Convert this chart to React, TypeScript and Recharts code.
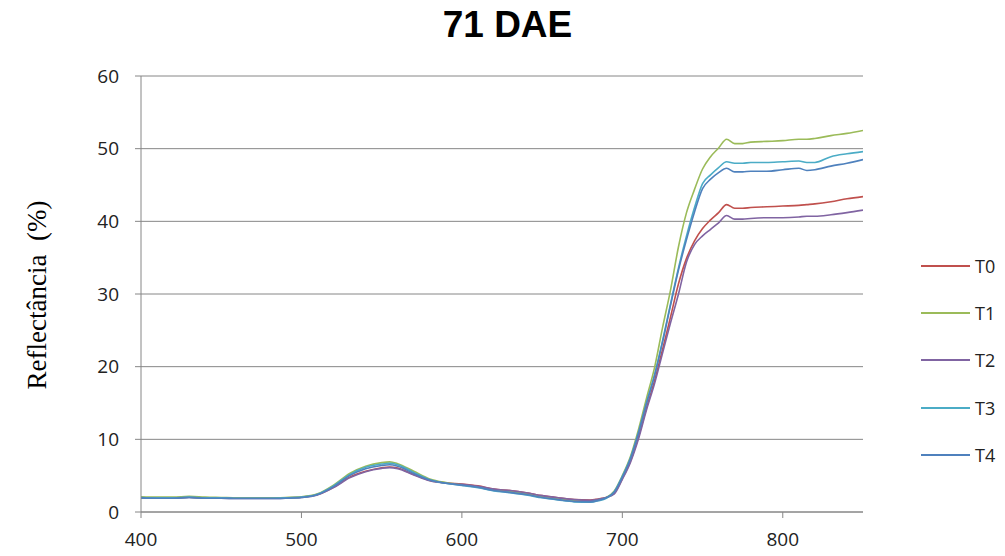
import { CartesianGrid, Line, LineChart, XAxis, YAxis } from 'recharts'

// wavelength (nm)
const wavelengths = [
  400, 410, 420, 430, 440, 450, 460, 470, 480, 490, 500, 510, 520, 530, 540,
  550, 555, 560, 570, 580, 590, 600, 610, 620, 630, 640, 650, 660, 670, 680,
  685, 690, 695, 700, 705, 710, 715, 720, 725, 730, 735, 740, 745, 750, 755,
  760, 765, 770, 775, 780, 790, 800, 810, 815, 820, 830, 840, 850,
]

// reflectance (%) per treatment
const t0 = [
  2.0, 1.95, 1.95, 2.05, 1.95, 1.95, 1.9, 1.9, 1.9, 1.95, 2.05, 2.4, 3.4, 4.8,
  5.6, 6.1, 6.2, 6.05, 5.15, 4.35, 4.0, 3.85, 3.6, 3.15, 2.95, 2.65, 2.25, 1.95,
  1.7, 1.65, 1.8, 2.0, 2.6, 4.6, 7.0, 10.3, 14.3, 18.0, 22.3, 26.8, 31.4, 34.9,
  37.3, 39.0, 40.2, 41.2, 42.3, 41.8, 41.8, 41.9, 42.0, 42.1, 42.2, 42.3, 42.4,
  42.7, 43.1, 43.4,
]
const t1 = [
  2.1, 2.05, 2.05, 2.15, 2.05, 2.0, 1.95, 1.95, 1.95, 2.0, 2.1, 2.5, 3.7, 5.3,
  6.3, 6.8, 6.9, 6.65, 5.6, 4.55, 4.05, 3.75, 3.45, 3.0, 2.8, 2.5, 2.1, 1.8,
  1.55, 1.5, 1.7, 2.0, 2.9, 5.0, 7.6, 11.3, 15.6, 19.8, 25.3, 30.5, 36.5, 41.2,
  44.4, 47.2, 48.9, 50.1, 51.3, 50.7, 50.7, 50.9, 51.0, 51.1, 51.3, 51.3, 51.4,
  51.8, 52.1, 52.5,
]
const t2 = [
  1.95, 1.9, 1.9, 2.0, 1.9, 1.9, 1.85, 1.85, 1.85, 1.9, 2.0, 2.35, 3.35, 4.7,
  5.55, 6.0, 6.1, 5.95, 5.1, 4.3, 3.95, 3.8, 3.55, 3.15, 2.95, 2.65, 2.25, 1.95,
  1.7, 1.6, 1.75, 2.0, 2.5, 4.5, 6.8, 10.0, 14.0, 17.6, 21.8, 26.0, 30.0, 34.4,
  36.8, 38.0, 38.9, 39.8, 40.8, 40.3, 40.3, 40.4, 40.5, 40.5, 40.6, 40.7, 40.7,
  40.9, 41.2, 41.55,
]
const t3 = [
  2.0, 1.95, 1.95, 2.05, 1.95, 1.95, 1.9, 1.9, 1.9, 1.95, 2.05, 2.45, 3.6, 5.15,
  6.15, 6.6, 6.7, 6.5, 5.45, 4.45, 3.95, 3.65, 3.35, 2.9, 2.65, 2.35, 1.95, 1.65,
  1.4, 1.35, 1.55, 1.9, 2.8, 4.9, 7.4, 10.9, 15.0, 18.8, 23.5, 28.6, 33.6, 38.0,
  41.9, 45.2, 46.4, 47.4, 48.2, 48.0, 48.0, 48.1, 48.1, 48.2, 48.3, 48.1, 48.1,
  48.9, 49.3, 49.6,
]
const t4 = [
  1.95, 1.9, 1.9, 2.0, 1.9, 1.9, 1.85, 1.85, 1.85, 1.9, 2.0, 2.4, 3.5, 5.0,
  5.95, 6.4, 6.5, 6.3, 5.3, 4.4, 3.95, 3.7, 3.4, 2.95, 2.7, 2.4, 2.0, 1.7, 1.45,
  1.4, 1.6, 1.95, 2.75, 4.8, 7.3, 10.8, 14.9, 18.7, 23.3, 28.4, 33.3, 37.5,
  41.3, 44.5, 45.8, 46.7, 47.3, 46.8, 46.8, 46.9, 46.9, 47.1, 47.3, 47.0, 47.1,
  47.6, 48.0, 48.5,
]

const xTicks = [400, 500, 600, 700, 800]
const yTicks = [0, 10, 20, 30, 40, 50, 60]

const series = [
  { key: 'T0', values: t0, color: '#c0504d' },
  { key: 'T1', values: t1, color: '#9bbb59' },
  { key: 'T2', values: t2, color: '#8064a2' },
  { key: 'T3', values: t3, color: '#4bacc6' },
  { key: 'T4', values: t4, color: '#4f81bd' },
]

const data = wavelengths.map((nm, i) => {
  const row: Record<string, number> = { nm }
  series.forEach((s) => {
    row[s.key] = s.values[i]
  })
  return row
})

const axisColor = '#868686'
const tickStyle = { fontSize: 19, fill: '#222', fontFamily: '"Open Sans", sans-serif' }

export default function App() {
  return (
    <div
      style={{
        position: 'absolute',
        left: 0,
        top: 0,
        width: 1005,
        height: 556,
        background: '#fff',
        fontFamily: '"Open Sans", sans-serif',
      }}
    >
      <div
        style={{
          position: 'absolute',
          left: 0,
          width: 1015,
          top: 4,
          textAlign: 'center',
          fontFamily: '"Liberation Sans", sans-serif',
          fontWeight: 700,
          fontSize: 37,
          color: '#000',
        }}
      >
        71 DAE
      </div>
      <LineChart
        width={1005}
        height={556}
        data={data}
        margin={{ top: 76, right: 142, bottom: 14, left: 0 }}
      >
        <CartesianGrid vertical={false} stroke={axisColor} strokeWidth={1} />
        <XAxis
          dataKey="nm"
          type="number"
          domain={[400, 850]}
          ticks={xTicks}
          allowDataOverflow
          height={30}
          stroke={axisColor}
          tickSize={6}
          tickMargin={15}
          tick={tickStyle}
        />
        <YAxis
          type="number"
          domain={[0, 60]}
          ticks={yTicks}
          width={141}
          stroke={axisColor}
          tickSize={6}
          tickMargin={16}
          tick={tickStyle}
          label={{
            content: () => (
              <text
                x={0}
                y={0}
                transform="translate(46 295) rotate(-90)"
                textAnchor="middle"
                fontFamily='"Liberation Serif", serif'
                fontSize={27}
                fill="#000"
              >
                Reflectância{'\u00a0'} (%)
              </text>
            ),
          }}
        />
        {series.map((s) => (
          <Line
            key={s.key}
            dataKey={s.key}
            type="monotone"
            stroke={s.color}
            strokeWidth={1.6}
            dot={false}
            activeDot={false}
            isAnimationActive={false}
          />
        ))}
      </LineChart>
      <div style={{ position: 'absolute', left: 921, top: 242 }}>
        {series.map((s) => (
          <div
            key={s.key}
            style={{ display: 'flex', alignItems: 'center', height: 47.3 }}
          >
            <div style={{ width: 49, height: 2, background: s.color }} />
            <span style={{ marginLeft: 5, fontSize: 18, color: '#222' }}>
              {s.key}
            </span>
          </div>
        ))}
      </div>
    </div>
  )
}
